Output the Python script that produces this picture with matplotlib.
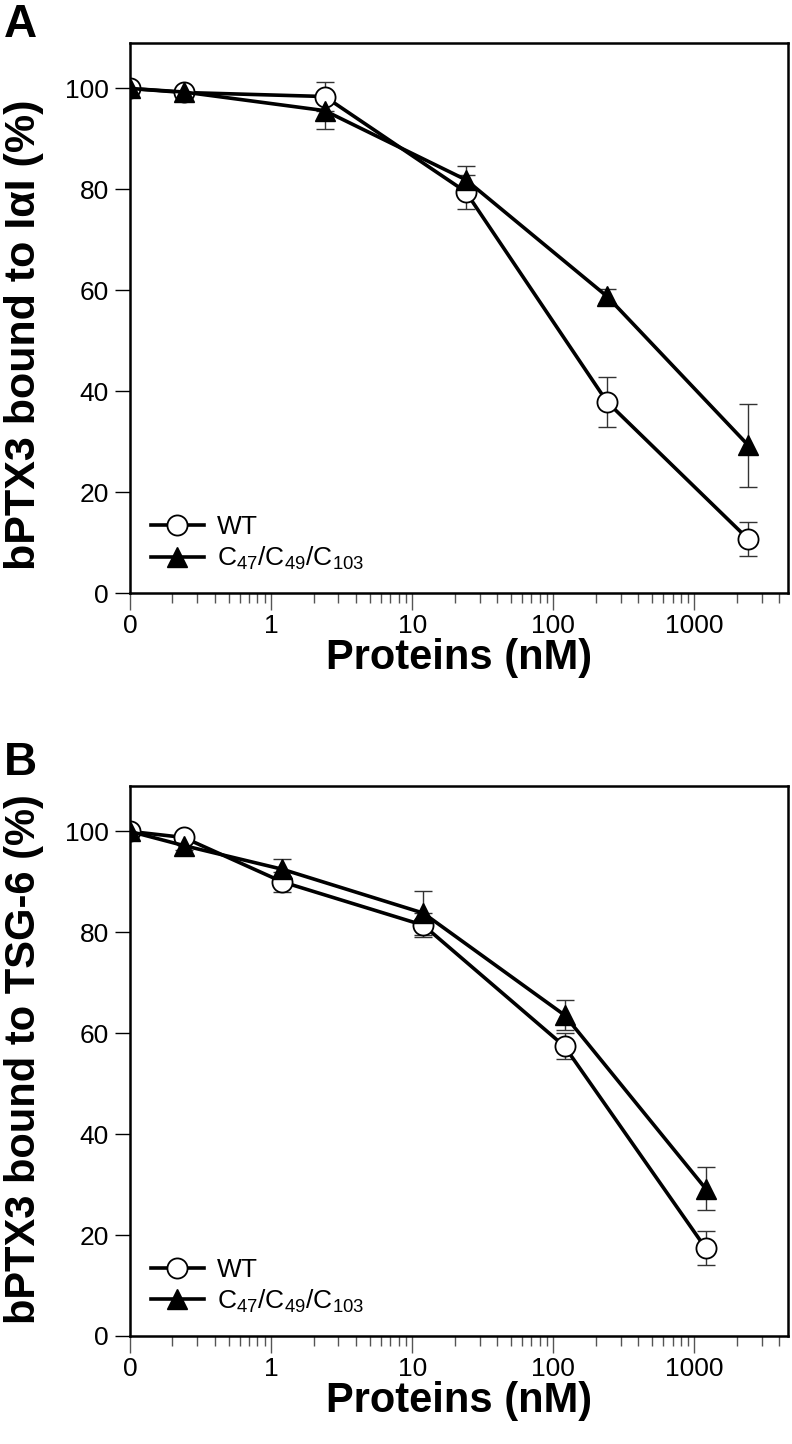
import matplotlib
matplotlib.use('Agg')
import matplotlib.pyplot as plt
from matplotlib.ticker import FixedLocator, NullFormatter

plt.rcParams['font.family'] = ['Liberation Sans', 'DejaVu Sans']
plt.rcParams['mathtext.fontset'] = 'custom'
plt.rcParams['mathtext.rm'] = 'Liberation Sans'
plt.rcParams['mathtext.it'] = 'Liberation Sans'
plt.rcParams['mathtext.default'] = 'regular'

# Panel A data (the "0" dose is drawn at 0.1 on the log axis)
conc_a = [0.1, 0.24, 2.4, 24, 240, 2400]
wt_a = [100, 99.2, 98.4, 79.5, 37.9, 10.7]
wt_a_err = [0.5, 0.8, 2.8, 3.4, 5.0, 3.4]
mut_a = [100, 99.3, 95.6, 81.9, 58.8, 29.3]
mut_a_err = [0.5, 0.6, 3.6, 2.7, 1.4, 8.2]

# Panel B data
conc_b = [0.1, 0.24, 1.2, 12, 120, 1200]
wt_b = [100, 98.8, 90.0, 81.4, 57.4, 17.4]
wt_b_err = [0.5, 0.8, 2.0, 2.4, 2.6, 3.4]
mut_b = [100, 97.2, 92.5, 83.8, 63.6, 29.2]
mut_b_err = [0.5, 0.8, 2.0, 4.3, 2.9, 4.3]

ylabels = ['bPTX3 bound to I\u03b1I (%)', 'bPTX3 bound to TSG-6 (%)']
panel_labels = ['A', 'B']
mut_name = 'C$_{47}$/C$_{49}$/C$_{103}$'

major_x = [0.1, 1, 10, 100, 1000]
major_x_labels = ['0', '1', '10', '100', '1000']
minor_x = [m * d for d in [0.1, 1, 10, 100] for m in range(2, 10)] + [2000, 3000, 4000]

fig = plt.figure(figsize=(7.92, 14.44), dpi=100)
ax_a = fig.add_axes([0.164, 0.5893, 0.831, 0.3809])
ax_b = fig.add_axes([0.164, 0.0748, 0.831, 0.3809])

panels = [
    (ax_a, conc_a, wt_a, wt_a_err, mut_a, mut_a_err, 31, 0.47),
    (ax_b, conc_b, wt_b, wt_b_err, mut_b, mut_b_err, 30, 0.503),
]

for i, (ax, x, wt, wt_err, mut, mut_err, ylab_size, ylab_pos) in enumerate(panels):
    # error bars (thin, drawn under the markers)
    ax.errorbar(x, wt, yerr=wt_err, fmt='none', ecolor='#333333', elinewidth=1, capsize=6.5, capthick=1, zorder=2)
    ax.errorbar(x, mut, yerr=mut_err, fmt='none', ecolor='#333333', elinewidth=1, capsize=6.5, capthick=1, zorder=2)

    ax.plot(x, wt, color='black', lw=2.6, marker='o', markersize=14.5, markerfacecolor='white',
            markeredgecolor='black', markeredgewidth=1.3, label='WT', zorder=3)
    ax.plot(x, mut, color='black', lw=2.6, marker='^', markersize=14.5, markerfacecolor='black',
            markeredgecolor='black', label=mut_name, zorder=4)

    ax.set_xscale('log')
    ax.set_xlim(0.1, 4600)
    ax.set_ylim(0, 109)
    ax.xaxis.set_major_locator(FixedLocator(major_x))
    ax.set_xticklabels(major_x_labels)
    ax.xaxis.set_minor_locator(FixedLocator(minor_x))
    ax.xaxis.set_minor_formatter(NullFormatter())
    ax.set_yticks([0, 20, 40, 60, 80, 100])

    ax.tick_params(axis='y', direction='out', length=11, width=1, labelsize=19, pad=4)
    ax.tick_params(axis='x', which='major', direction='out', length=12, width=1, color='#555555', labelsize=19, pad=3)
    ax.tick_params(axis='x', which='minor', direction='out', length=7, width=1, color='#555555')
    for s in ax.spines.values():
        s.set_linewidth(1.8)

    ax.set_xlabel('Proteins (nM)', fontsize=30, fontweight='bold', labelpad=0)
    ax.set_ylabel(ylabels[i], fontsize=ylab_size, fontweight='bold')
    ax.yaxis.set_label_coords(-0.13, ylab_pos)

    ax.legend(loc='lower left', frameon=False, fontsize=19, handlelength=2.0, handletextpad=0.5,
              labelspacing=0.2, borderaxespad=0.6, borderpad=0.2)

fig.text(0.005, 0.998, panel_labels[0], fontsize=33, fontweight='bold', va='top', ha='left')
fig.text(0.005, 0.487, panel_labels[1], fontsize=33, fontweight='bold', va='top', ha='left')

plt.savefig('out.png', dpi=100)
